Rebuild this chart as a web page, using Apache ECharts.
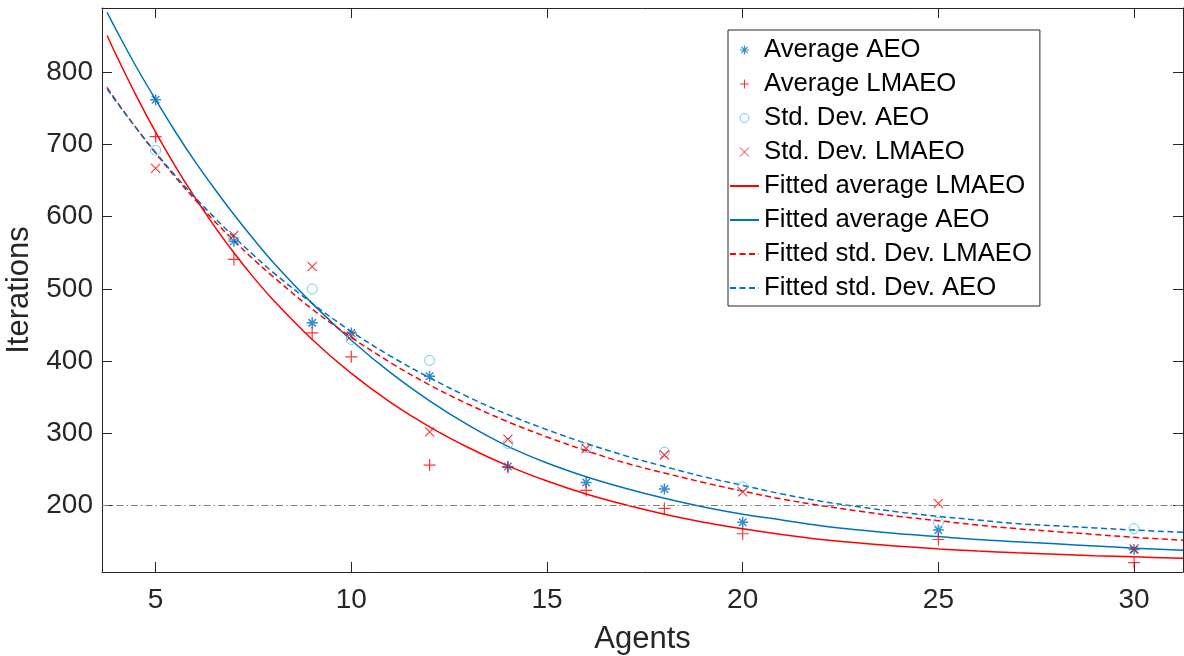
<!DOCTYPE html>
<html><head><meta charset="utf-8">
<script src="https://cdn.jsdelivr.net/npm/echarts@6/dist/echarts.min.js"></script>
<style>html,body{margin:0;padding:0;background:#fff}#c{width:1184px;height:656px}</style>
</head><body><div id="c"></div>
<script>
const agents = [5, 7, 9, 10, 12, 14, 16, 18, 20, 25, 30];
const avgAEO = [762, 566, 453, 439, 379, 254, 232, 223, 177, 166, 139];
const avgLMAEO = [711, 541, 439, 406, 256, 253, 221, 196, 161, 153, 121];
const stdAEO = [692, 569, 500, 430, 401, 286, 280, 274, 226, 177, 168];
const stdLMAEO = [667, 574, 531, 435, 302, 292, 279, 270, 219, 203, 140];

const fitX = [3.76, 4, 4.5, 5, 5.5, 6, 6.5, 7, 7.5, 8, 9, 10, 11, 12, 13, 14, 15, 16, 17, 18, 19, 20, 21, 22, 23, 24, 25, 26, 27, 28, 29, 30, 31.25];
const fitAvgLMAEO = [851, 823, 768, 717, 670, 627, 587, 550, 516, 485, 430, 383, 343, 309, 280, 255, 234, 216, 201, 188, 177, 168, 160, 153, 148, 143.5, 140, 137, 134.5, 132.5, 130.5, 129, 127];
const fitAvgAEO = [883, 858, 808, 762, 718, 677, 639, 603, 569, 537, 480, 429, 384, 345, 311, 282, 259, 240, 224, 210, 198, 188, 180, 172, 166, 161, 157, 153, 150, 147, 144, 141, 138];
const fitStdLMAEO = [779, 760, 723, 688, 655, 624, 594, 567, 541, 517, 472, 433, 398, 367, 340, 316, 295, 276, 259, 245, 232, 220, 209, 200, 192, 185, 179, 173, 168, 164, 160, 156, 152];
const fitStdAEO = [777, 759, 723, 689, 657, 627, 599, 572, 547, 523, 480, 441, 407, 377, 350, 326, 305, 286, 269, 254, 240, 228, 216, 206, 198, 191, 185, 180, 175, 172, 169, 166, 163];

const xTicks = [5, 10, 15, 20, 25, 30];
const yTicks = [200, 300, 400, 500, 600, 700, 800];
const xRange = [3.63, 31.25];
const yRange = [108, 889];
const refLevel = 200;

const FONT = '"Liberation Sans", Arial, Helvetica, sans-serif';
const AX = '#262626';
const RED = '#FF0000', BLUE = '#0072BD', LBLUE = '#4DBEEE';
const SYM_AST = 'path://M5,0L5,10M0,5L10,5M1.6,1.6L8.4,8.4M8.4,1.6L1.6,8.4';
const SYM_PLUS = 'path://M5,0L5,10M0,5L10,5';
const SYM_X = 'path://M0,0L10,10M10,0L0,10';

const pts = (xs, ys) => xs.map((x, i) => [x, ys[i]]);

function scatter(name, ys, symbol, size, color, bw) {
  return {
    type: 'scatter', name, data: pts(agents, ys), symbol, symbolSize: size, z: 3,
    itemStyle: { color: 'none', borderColor: color, borderWidth: bw }
  };
}
function fit(name, ys, color, dashed, extra) {
  return Object.assign({
    type: 'line', name, data: pts(fitX, ys), showSymbol: false, symbol: 'none',
    smooth: 0.35, z: 2,
    itemStyle: { color },
    lineStyle: { color, width: 1.5, type: dashed ? [6, 3.5] : 'solid' }
  }, extra || {});
}
const lineLegend = (name) => ({ name, itemStyle: { opacity: 0, color: 'transparent', borderWidth: 0 } });

const chart = echarts.init(document.getElementById('c'), null, { renderer: 'canvas' });
const axisCommon = {
  type: 'value',
  axisLine: { show: true, onZero: false, lineStyle: { color: AX, width: 1 } },
  splitLine: { show: false },
};
chart.setOption({
  animation: false,
  backgroundColor: '#fff',
  textStyle: { fontFamily: FONT },
  grid: { left: 102, top: 8, right: 1, bottom: 84, containLabel: false, outerBoundsMode: 'none' },
  xAxis: [
    Object.assign({}, axisCommon, {
      min: xRange[0], max: xRange[1], position: 'bottom',
      axisTick: { show: true, inside: true, length: 10, lineStyle: { color: AX }, customValues: xTicks },
      axisLabel: { show: true, customValues: xTicks, fontSize: 28, color: AX, fontFamily: FONT, margin: 14 },
      name: 'Agents', nameLocation: 'middle', nameGap: 52,
      nameTextStyle: { fontSize: 31, color: AX, fontFamily: FONT }
    }),
    Object.assign({}, axisCommon, {
      min: xRange[0], max: xRange[1], position: 'top',
      axisTick: { show: true, inside: true, length: 10, lineStyle: { color: AX }, customValues: xTicks },
      axisLabel: { show: false }
    })
  ],
  yAxis: [
    Object.assign({}, axisCommon, {
      min: yRange[0], max: yRange[1], position: 'left',
      axisTick: { show: true, inside: true, length: 10, lineStyle: { color: AX }, customValues: yTicks },
      axisLabel: { show: true, customValues: yTicks, fontSize: 28, color: AX, fontFamily: FONT, margin: 9 },
      name: 'Iterations', nameLocation: 'middle', nameGap: 53,
      nameTextStyle: { fontSize: 31, color: AX, fontFamily: FONT }
    }),
    Object.assign({}, axisCommon, {
      min: yRange[0], max: yRange[1], position: 'right',
      axisTick: { show: true, inside: true, length: 10, lineStyle: { color: AX }, customValues: yTicks },
      axisLabel: { show: false }
    })
  ],
  legend: {
    orient: 'vertical', left: 728, top: 30,
    padding: [7, 8, 5, 1],
    backgroundColor: '#fff', borderColor: AX, borderWidth: 1,
    itemWidth: 29, itemHeight: 9, itemGap: 8,
    textStyle: { fontSize: 25.7, lineHeight: 25, color: '#000', fontFamily: FONT },
    data: [
      { name: 'Average AEO', itemStyle: { color: 'none', borderColor: BLUE, borderWidth: 1.2 } },
      { name: 'Average LMAEO', itemStyle: { color: 'none', borderColor: RED, borderWidth: 1 } },
      { name: 'Std. Dev. AEO', itemStyle: { color: 'none', borderColor: LBLUE, borderWidth: 1 } },
      { name: 'Std. Dev. LMAEO', itemStyle: { color: 'none', borderColor: RED, borderWidth: 1 } },
      lineLegend('Fitted average LMAEO'), lineLegend('Fitted average AEO'),
      lineLegend('Fitted std. Dev. LMAEO'), lineLegend('Fitted std. Dev. AEO')
    ]
  },
  series: [
    scatter('Average AEO', avgAEO, SYM_AST, 11, BLUE, 1.5),
    scatter('Average LMAEO', avgLMAEO, SYM_PLUS, 12, RED, 1.2),
    scatter('Std. Dev. AEO', stdAEO, 'circle', 10, LBLUE, 1),
    scatter('Std. Dev. LMAEO', stdLMAEO, SYM_X, 9, RED, 1.1),
    fit('Fitted average LMAEO', fitAvgLMAEO, RED, false, {
      markLine: {
        silent: true, symbol: ['none', 'none'], label: { show: false },
        lineStyle: { color: '#808080', width: 1, type: [7, 3, 1.5, 3] },
        data: [{ yAxis: refLevel }]
      }
    }),
    fit('Fitted average AEO', fitAvgAEO, BLUE, false),
    fit('Fitted std. Dev. LMAEO', fitStdLMAEO, RED, true),
    fit('Fitted std. Dev. AEO', fitStdAEO, BLUE, true)
  ]
});
</script>
</body></html>
